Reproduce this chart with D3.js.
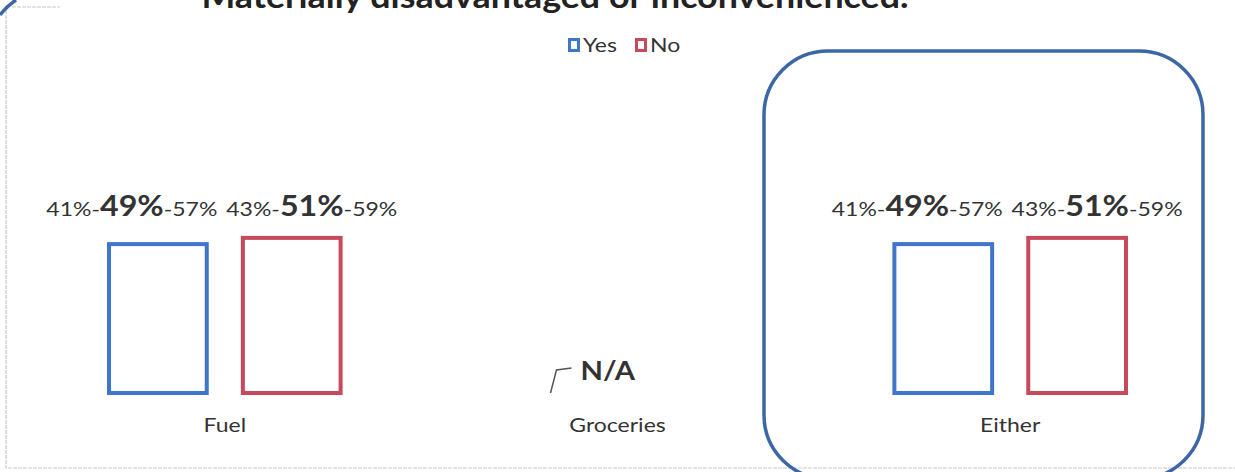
<!DOCTYPE html>
<html>
<head>
<meta charset="utf-8">
<script src="https://cdn.jsdelivr.net/npm/d3@7"></script>
<style>
  html, body { margin: 0; padding: 0; background: #fff; }
  svg { display: block; }
  text { font-family: Lato, "Open Sans", sans-serif; fill: #333; }
</style>
</head>
<body>
<svg width="1235" height="472"></svg>
<script>
const titleText  = "Materially disadvantaged or inconvenienced.";
const categories = ["Fuel", "Groceries", "Either"];
const seriesNames = ["Yes", "No"];
const yesValues  = [49, null, 49];
const yesLow     = [41, null, 41];
const yesHigh    = [57, null, 57];
const noValues   = [51, null, 51];
const noLow      = [43, null, 43];
const noHigh     = [59, null, 59];
const missingLabel = "N/A";

const colors = { Yes: "#3f76cc", No: "#c74a5c" };
const frameBlue = "#3d66a6";
const stretch = 1.15;   // the scan is wider than tall

const svg    = d3.select("svg");
const width  = +svg.attr("width");
const height = +svg.attr("height");

svg.append("rect").attr("width", width).attr("height", height).attr("fill", "#fff");

// faint chart frame
svg.append("path")
  .attr("d", "M6,10 V468 H1235 M12,7 H60")
  .attr("fill", "none")
  .attr("stroke", "#c9c9c9")
  .attr("stroke-width", 1.2)
  .attr("stroke-dasharray", "4 1");

const baseY = 395;
const y = d3.scaleLinear().domain([0, 100]).range([baseY, baseY - 312]);

const x0 = d3.scaleBand()
  .domain(categories)
  .range([107, 1128])
  .paddingInner(0.4);

const x1 = d3.scaleBand()
  .domain(seriesNames)
  .range([0, x0.bandwidth()])
  .paddingInner(0.24);

const rows = categories.map((c, i) => ({
  cat: c,
  Yes: { v: yesValues[i], lo: yesLow[i], hi: yesHigh[i] },
  No:  { v: noValues[i],  lo: noLow[i],  hi: noHigh[i] }
}));

function stretchedText(parent, cx, cy, sx) {
  return parent.append("g")
    .attr("transform", `translate(${cx},${cy}) scale(${sx},1)`)
    .append("text")
    .attr("text-anchor", "middle");
}

// title, cropped at top of the scan
stretchedText(svg, 555, 8, 1.12)
  .attr("font-size", 32)
  .attr("font-weight", "bold")
  .style("fill", "#222")
  .text(titleText);

// legend
const legend = svg.append("g").attr("transform", "translate(568,38)");
seriesNames.forEach((s, i) => {
  const g = legend.append("g").attr("transform", `translate(${i * 67},0)`);
  g.append("rect")
    .attr("x", 1.5).attr("y", 1.5)
    .attr("width", 9).attr("height", 11)
    .attr("fill", "#fff")
    .attr("stroke", colors[s])
    .attr("stroke-width", 3);
  stretchedText(g, 15, 14, stretch)
    .attr("text-anchor", "start")
    .attr("font-size", 20)
    .text(s);
});

const groups = svg.selectAll("g.cat")
  .data(rows)
  .join("g")
  .attr("class", "cat")
  .attr("transform", d => `translate(${x0(d.cat)},0)`);

groups.selectAll("rect.bar")
  .data(d => seriesNames.filter(s => d[s].v != null).map(s => ({ s, ...d[s] })))
  .join("rect")
  .attr("class", "bar")
  .attr("x", d => x1(d.s) + 2)
  .attr("y", d => y(d.v) + 2)
  .attr("width", x1.bandwidth() - 4)
  .attr("height", d => y(0) - y(d.v) - 4)
  .attr("fill", "#fff")
  .attr("stroke", d => colors[d.s])
  .attr("stroke-width", 4);

// value labels: low - value - high
const labelY = y(d3.max(noValues)) - 20;
const labelShift = { Yes: -26, No: 20 };
groups.each(function (d) {
  const g = d3.select(this);
  seriesNames.forEach(s => {
    const r = d[s];
    if (r.v == null) return;
    const t = stretchedText(g, x1(s) + x1.bandwidth() / 2 + labelShift[s], labelY, stretch);
    t.append("tspan").attr("font-size", 20).text(`${r.lo}%-`);
    t.append("tspan").attr("font-size", 28).attr("font-weight", "bold").text(`${r.v}%`);
    t.append("tspan").attr("font-size", 20).text(`-${r.hi}%`);
  });
});

// category labels
groups.each(function (d) {
  stretchedText(d3.select(this), x0.bandwidth() / 2, 432, stretch)
    .attr("font-size", 20)
    .text(d.cat);
});

// N/A note for the empty category
rows.filter(d => d.Yes.v == null && d.No.v == null).forEach(d => {
  const cx = x0(d.cat) + x0.bandwidth() / 2;
  svg.append("path")
    .attr("d", `M${cx - 67},393 L${cx - 61},370 L${cx - 46},368`)
    .attr("fill", "none")
    .attr("stroke", "#555")
    .attr("stroke-width", 1.5);
  stretchedText(svg, cx - 37, 380, 1.08)
    .attr("text-anchor", "start")
    .attr("font-size", 27)
    .attr("font-weight", "bold")
    .text(missingLabel);
});

// hand-drawn highlight around "Either"
svg.append("rect")
  .attr("x", 764).attr("y", 51)
  .attr("width", 439).attr("height", 428)
  .attr("rx", 64).attr("ry", 64)
  .attr("fill", "none")
  .attr("stroke", frameBlue)
  .attr("stroke-width", 3.5);

svg.append("path")
  .attr("d", "M0,15 Q7,6 16,0")
  .attr("fill", "none")
  .attr("stroke", frameBlue)
  .attr("stroke-width", 3.5);
</script>
</body>
</html>
